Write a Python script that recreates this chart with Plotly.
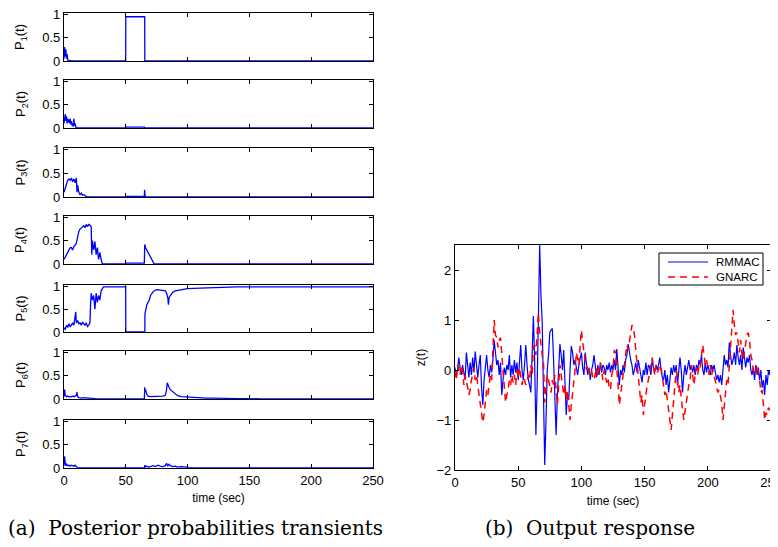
import plotly.graph_objects as go

# ---------------- Data: posterior probabilities (left) ----------------
p1_t = [0, 0.5, 1, 1.5, 2, 2.5, 3, 4, 6, 10, 49.9, 50, 65.3, 65.4, 250]
p1_v = [0.05, 0.3, 0.1, 0.25, 0.05, 0.15, 0.02, 0.01, 0, 0, 0, 0.95, 0.95, 0, 0]

p2_t = [0, 0.5, 1, 1.5, 2, 2.5, 3, 3.5, 4, 4.5, 5, 5.5, 6, 6.5, 7, 7.5, 8, 8.5, 9, 9.5, 10, 11, 50, 50.1, 65, 65.1, 250]
p2_v = [0.1, 0.2, 0.3, 0.15, 0.25, 0.1, 0.2, 0.12, 0.18, 0.1, 0.2, 0.08, 0.15, 0.05, 0.1, 0.03, 0.2, 0.05, 0.1, 0.02, 0.02, 0, 0, 0.02, 0.02, 0, 0]

p3_t = [0, 1, 2, 3, 4, 5, 6, 7, 8, 9, 10, 10.5, 11, 12, 13, 14, 15, 16, 17, 18, 50, 50.1, 65, 65.2, 65.5, 66, 250]
p3_v = [0.1, 0.2, 0.3, 0.35, 0.38, 0.35, 0.4, 0.32, 0.38, 0.3, 0.4, 0.1, 0.25, 0.1, 0.05, 0.08, 0.04, 0.05, 0.03, 0, 0, 0.01, 0.01, 0.15, 0.05, 0, 0]

p4_t = [0, 1, 2, 3, 4, 5, 6, 7, 8, 9, 10, 11, 12, 13, 14, 15, 16, 17, 18, 19, 20, 21, 22, 22.5, 23, 24, 25, 26, 27, 28, 29, 30, 31,
        50, 50.1, 65, 65.3, 66, 67, 68, 69, 70, 71, 72, 73, 250]
p4_v = [0.1, 0.15, 0.2, 0.25, 0.3, 0.35, 0.35, 0.3, 0.38, 0.4, 0.45, 0.6, 0.7, 0.75, 0.78, 0.8, 0.82, 0.78, 0.85, 0.8, 0.85, 0.83, 0.8, 0.2, 0.5, 0.3, 0.48, 0.2, 0.35, 0.1, 0.25, 0.1, 0,
        0, 0.02, 0.02, 0.42, 0.35, 0.3, 0.25, 0.2, 0.15, 0.1, 0.05, 0, 0]

p5_t = [0, 1, 2, 3, 4, 5, 6, 7, 8, 9, 9.5, 10, 11, 12, 13, 14, 15, 16, 17, 18, 19, 20, 21, 21.5, 22, 23, 24, 25, 26, 27, 28, 29, 30, 31, 32, 34, 40, 49.9,
        50, 65.4, 65.5, 66, 67, 68, 69, 70, 71, 72, 74, 76, 78, 80, 82, 83, 84, 84.5, 85, 86, 88, 90, 95, 100, 110, 120, 140, 160, 250]
p5_v = [0.1, 0.05, 0.15, 0.1, 0.18, 0.12, 0.15, 0.2, 0.15, 0.3, 0.44, 0.2, 0.25, 0.18, 0.2, 0.15, 0.22, 0.18, 0.15, 0.2, 0.12, 0.15, 0.2, 0.6, 0.85, 0.7, 0.8, 0.5, 0.85, 0.65, 0.8, 0.7, 0.9, 0.95, 0.99, 0.99, 0.99, 0.99,
        0, 0, 0.4, 0.5, 0.6, 0.65, 0.7, 0.8, 0.85, 0.88, 0.92, 0.93, 0.92, 0.91, 0.9, 0.85, 0.75, 0.6, 0.75, 0.8, 0.87, 0.9, 0.93, 0.95, 0.96, 0.97, 0.99, 0.99, 0.99]

p6_t = [0, 0.5, 1, 2, 3, 4, 5, 6, 7, 8, 9, 10, 10.5, 11, 12, 14, 16, 18, 20, 25, 30, 50, 65, 65.3, 65.6, 66, 67, 68, 70, 72, 75, 78, 80, 82, 83, 83.5,
        84, 85, 86, 88, 90, 92, 95, 100, 105, 110, 115, 120, 130, 140, 150, 160, 250]
p6_v = [0.05, 0.2, 0.08, 0.05, 0.06, 0.05, 0.04, 0.05, 0.06, 0.05, 0.06, 0.08, 0.15, 0.05, 0.03, 0.02, 0.03, 0.02, 0.02, 0.01, 0.01, 0, 0, 0.25, 0.15, 0.2, 0.1, 0.06, 0.05, 0.05, 0.05, 0.05, 0.06, 0.08, 0.2, 0.35,
        0.3, 0.25, 0.2, 0.15, 0.1, 0.07, 0.05, 0.04, 0.03, 0.03, 0.02, 0.02, 0.01, 0.01, 0.01, 0, 0]

p7_t = [0, 0.5, 1, 1.5, 2, 3, 4, 5, 6, 7, 8, 9, 10, 10.5, 11, 50, 65, 65.5, 66, 67, 68, 70, 72, 74, 76, 78, 80, 82, 83, 84, 85, 86, 88, 90, 92, 95, 100, 101, 250]
p7_v = [0.05, 0.25, 0.1, 0.05, 0.08, 0.05, 0.06, 0.04, 0.06, 0.05, 0.04, 0.06, 0.04, 0.01, 0, 0, 0, 0.06, 0.03, 0.04, 0.02, 0.03, 0.05, 0.03, 0.06, 0.04, 0.03, 0.05, 0.1, 0.04, 0.08, 0.05, 0.03, 0.04, 0.02, 0.03, 0.02, 0, 0]

prob_series = [(p1_t, p1_v), (p2_t, p2_v), (p3_t, p3_v), (p4_t, p4_v), (p5_t, p5_v), (p6_t, p6_v), (p7_t, p7_v)]
prob_labels = ["P<sub>1</sub>(t)", "P<sub>2</sub>(t)", "P<sub>3</sub>(t)", "P<sub>4</sub>(t)",
               "P<sub>5</sub>(t)", "P<sub>6</sub>(t)", "P<sub>7</sub>(t)"]

# ---------------- Data: output response (right), 1 s samples ----------------
z_time = list(range(0, 251))
z_rmmac = [
    0.05, -0.15, 0.0, 0.25, 0.05, -0.1, 0.1, -0.05, -0.2, 0.35,
    0.1, -0.15, 0.15, -0.1, 0.25, -0.05, 0.37, 0.05, -0.15, 0.1,
    0.3, -0.35, -0.7, -0.2, 0.1, 0.3, 0.0, -0.15, 0.1, -0.05,
    0.2, 0.6, 0.35, 0.1, 0.2, -0.1, 0.15, -0.5, -0.2, 0.05,
    -0.1, 0.1, 0.0, 0.3, -0.15, 0.1, -0.1, 0.2, -0.05, 0.15,
    -0.2, 0.2, 0.5, 0.0, -0.2, 0.1, 0.5, 0.1, -0.2, -0.3,
    -0.45, 0.3, 1.08, 0.2, -1.3, -0.3, 1.0, 2.5, 1.5, 0.95,
    -0.5, -1.9, -1.0, 0.0, 0.3, 0.75, 0.8, 0.83, 0.2, -0.7,
    -1.3, -0.5, 0.1, 0.52, 0.3, 0.0, 0.4, -0.3, -0.9, -0.5,
    -0.6, 0.0, 0.48, 0.35, 0.1, 0.2, 0.05, -0.1, 0.1, 0.2,
    0.35, 0.05, -0.1, 0.35, 0.1, -0.1, 0.05, -0.2, 0.0, 0.1,
    0.3, 0.0, -0.15, 0.1, -0.1, 0.15, -0.05, 0.1, 0.05, -0.1,
    0.1, 0.0, 0.15, -0.05, 0.1, 0.0, 0.2, 0.0, 0.42, 0.05,
    -0.3, 0.0, -0.1, 0.1, -0.05, 0.2, 0.3, 0.52, 0.3, 0.2,
    0.1, -0.1, 0.0, 0.15, -0.05, 0.2, 0.05, -0.15, -0.25, 0.0,
    -0.1, 0.15, -0.1, 0.1, 0.05, -0.1, 0.22, 0.05, -0.05, 0.1,
    0.0, 0.1, 0.25, 0.0, -0.15, -0.2, 0.0, -0.3, -0.1, -0.45,
    -0.1, 0.05, -0.1, 0.1, -0.05, 0.1, -0.3, 0.0, 0.25, 0.0,
    -0.45, -0.1, 0.1, -0.1, 0.05, 0.2, 0.0, 0.1, -0.05, 0.1,
    -0.1, 0.1, 0.0, 0.2, 0.1, 0.3, 0.0, -0.1, 0.15, -0.05,
    0.1, 0.0, -0.1, 0.1, 0.0, 0.1, -0.05, -0.2, -0.1, -0.25,
    -0.1, -0.3, 0.0, 0.3, 0.1, 0.2, 0.05, 0.55, 0.3, 0.1,
    0.2, 0.35, 0.1, 0.5, 0.25, 0.1, 0.3, 0.0, 0.45, 0.2,
    0.05, 0.25, 0.15, 0.3, 0.0, -0.1, 0.05, -0.2, 0.1, -0.1,
    0.05, -0.2, 0.0, -0.35, -0.2, -0.5, -0.1, -0.3, 0.0, -0.1,
    0.05,
]
z_gnarc = [
    0.0, -0.2, 0.1, 0.05, -0.1, 0.1, 0.0, -0.3, -0.1, -0.2,
    -0.35, -0.5, -0.4, -0.2, -0.1, 0.05, -0.2, -0.1, -0.3, -0.5,
    -0.6, -0.85, -1.05, -0.9, -0.7, -0.4, -0.5, -0.3, -0.1, -0.2,
    0.3, 1.0, 0.7, 0.65, 0.45, 0.6, 0.65, 0.3, 0.0, -0.3,
    -0.65, -0.5, -0.4, -0.2, -0.3, -0.1, -0.25, -0.1, -0.3, 0.0,
    -0.15, 0.05, -0.1, -0.3, -0.15, -0.2, -0.3, -0.25, -0.1, -0.2,
    0.1, -0.1, 0.45, 0.5, 0.3, 0.7, 1.15, 0.75, 0.5, 0.3,
    0.15, -0.65, -0.3, -0.1, -0.2, -0.3, -0.45, -0.2, -0.3, -0.1,
    -0.4, -0.7, -0.3, 0.1, -0.1, -0.3, -0.5, -0.3, -0.6, -0.4,
    -0.75, -1.0, -0.7, -0.5, -0.3, 0.0, 0.35, 0.2, 0.1, 0.5,
    0.8, 0.55, 0.3, 0.2, 0.0, 0.1, -0.05, -0.1, 0.0, -0.15,
    -0.2, -0.1, 0.05, -0.15, 0.1, 0.15, -0.05, -0.2, 0.0, -0.1,
    -0.25, -0.15, -0.35, -0.4, -0.1, 0.0, 0.4, 0.35, 0.1, -0.3,
    -0.7, -0.5, -0.4, -0.2, 0.1, 0.3, 0.5, 0.4, 0.6, 0.8,
    0.9, 0.85, 0.7, 0.4, 0.1, -0.2, -0.4, -0.65, -0.5, -0.9,
    -0.7, -0.45, -0.3, -0.2, 0.0, 0.1, 0.25, 0.05, -0.1, 0.1,
    -0.05, 0.0, 0.1, 0.05, -0.15, -0.3, -0.5, -0.4, -0.65, -0.8,
    -1.0, -1.2, -0.9, -0.6, -0.3, 0.0, -0.2, -0.45, -0.3, -0.6,
    -0.8, -1.0, -0.8, -0.6, -0.5, -0.3, -0.2, 0.1, -0.1, -0.3,
    -0.1, 0.05, -0.1, 0.1, 0.05, 0.3, 0.5, 0.3, 0.1, 0.2,
    0.05, -0.1, 0.1, -0.1, 0.0, -0.1, -0.2, -0.3, -0.45, -0.4,
    -0.55, -0.65, -1.0, -0.7, -0.4, -0.2, -0.3, 0.1, 0.4, 0.75,
    1.2, 0.9, 0.7, 0.75, 0.5, 0.35, 0.6, 0.3, 0.2, 0.4,
    0.6, 0.7, 0.75, 0.6, 0.3, 0.2, 0.0, -0.1, -0.05, 0.1,
    -0.05, -0.2, -0.45, -0.4, -0.7, -1.0, -0.85, -0.9, -0.75, -0.8,
    -0.6,
]

series_names = ["RMMAC", "GNARC"]
time_ticks = [0, 50, 100, 150, 200, 250]
prob_ticks = [0, 0.5, 1]
prob_tick_text = ["0", "0.5", "1"]
z_ticks = [-2, -1, 0, 1, 2]

# ---------------- Layout geometry (window pixels) ----------------
W, H = 778, 547
OFF = 8  # page body margin: figure is drawn 8px right/down of the window corner
FONT = "Liberation Sans, Arial, sans-serif"
SERIF = "DejaVu Serif, serif"
left_x0, left_x1 = 64, 373
panel_px = [(13, 61), (80, 128), (148, 197), (216, 264), (285, 332), (351, 399), (420, 468)]
right_x0, right_x1, right_y0, right_y1 = 455, 771, 245, 470


def px(x):
    return (x - OFF) / W


def py(y):
    return 1 - (y - OFF) / H


fig = go.Figure()
layout = dict(
    template="none",
    width=W, height=H, margin=dict(l=0, r=0, t=0, b=0, pad=0), autosize=False,
    paper_bgcolor="white", plot_bgcolor="white",
    font=dict(family=FONT, size=13, color="black"),
    showlegend=False,
)

axis_common = dict(showline=True, linecolor="black", linewidth=1.2, mirror="ticks",
                   ticks="inside", ticklen=4, tickwidth=1, tickcolor="black", showgrid=False,
                   zeroline=False, automargin=False, ticklabeloverflow="allow")

annotations = []
for i, ((tt, vv), lab, (y0, y1)) in enumerate(zip(prob_series, prob_labels, panel_px)):
    n = i + 1
    xa = "x" if n == 1 else f"x{n}"
    ya = "y" if n == 1 else f"y{n}"
    fig.add_trace(go.Scatter(x=tt, y=vv, mode="lines", line=dict(color="#0000ff", width=1.3),
                             xaxis=xa, yaxis=ya, showlegend=False, hoverinfo="skip"))
    xdef = dict(axis_common, domain=[px(left_x0), px(left_x1)], range=[0, 250],
                tickvals=time_ticks, showticklabels=(n == 7), anchor=ya, tickfont=dict(size=13))
    if n == 7:
        xdef["title"] = dict(text="time (sec)", font=dict(size=12), standoff=6)
    layout["xaxis" if n == 1 else f"xaxis{n}"] = xdef
    layout["yaxis" if n == 1 else f"yaxis{n}"] = dict(
        axis_common, domain=[py(y1), py(y0)], range=[0, 1.03],
        tickvals=prob_ticks, ticktext=prob_tick_text, anchor=xa, tickfont=dict(size=13),
    )
    annotations.append(dict(text=lab, x=px(21), y=py((y0 + y1) / 2), xref="paper", yref="paper",
                            textangle=-90, showarrow=False, font=dict(size=13, family=FONT),
                            xanchor="center", yanchor="middle"))

# right panel
fig.add_trace(go.Scatter(x=z_time, y=z_rmmac, mode="lines", name=series_names[0],
                         line=dict(color="#0000ff", width=1.2), xaxis="x8", yaxis="y8"))
fig.add_trace(go.Scatter(x=z_time, y=z_gnarc, mode="lines", name=series_names[1],
                         line=dict(color="#ff0000", width=1.5, dash="7px,5px"), xaxis="x8", yaxis="y8"))
layout["xaxis8"] = dict(axis_common, domain=[px(right_x0), px(right_x1)], range=[0, 250],
                        tickvals=time_ticks, anchor="y8", tickfont=dict(size=13),
                        title=dict(text="time (sec)", font=dict(size=12), standoff=7))
layout["yaxis8"] = dict(axis_common, domain=[py(right_y1), py(right_y0)], range=[-2, 2.5],
                        tickvals=z_ticks, anchor="x8", tickfont=dict(size=13),
                        title=dict(text="z(t)", font=dict(size=12), standoff=8))

# legend box (drawn manually to match the compact MATLAB legend)
shapes = [
    dict(type="rect", xref="paper", yref="paper", x0=px(659), x1=px(763), y0=py(285), y1=py(253),
         line=dict(color="black", width=1), fillcolor="white", layer="above"),
    dict(type="line", xref="paper", yref="paper", x0=px(668), x1=px(708), y0=py(262), y1=py(262),
         line=dict(color="#0000ff", width=1.2), layer="above"),
    dict(type="line", xref="paper", yref="paper", x0=px(668), x1=px(708), y0=py(277), y1=py(277),
         line=dict(color="#ff0000", width=1.5, dash="7px,5px"), layer="above"),
]
annotations.append(dict(text=series_names[0], x=px(714), y=py(262), xref="paper", yref="paper",
                        showarrow=False, xanchor="left", yanchor="middle", font=dict(size=11.5, family=FONT)))
annotations.append(dict(text=series_names[1], x=px(714), y=py(277), xref="paper", yref="paper",
                        showarrow=False, xanchor="left", yanchor="middle", font=dict(size=11.5, family=FONT)))

annotations.append(dict(text="(a)  Posterior probabilities transients", x=px(195), y=py(528),
                        xref="paper", yref="paper", showarrow=False,
                        font=dict(size=20, family=SERIF), xanchor="center", yanchor="middle"))
annotations.append(dict(text="(b)  Output response", x=px(590), y=py(528),
                        xref="paper", yref="paper", showarrow=False,
                        font=dict(size=20, family=SERIF), xanchor="center", yanchor="middle"))
layout["annotations"] = annotations
layout["shapes"] = shapes

fig.update_layout(**layout)
fig.write_html("out.html")
